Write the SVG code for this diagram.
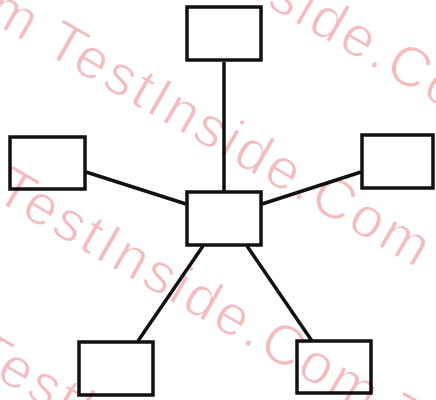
<svg xmlns="http://www.w3.org/2000/svg" width="436" height="400" viewBox="0 0 436 400">
<style>
.box{fill:none;stroke:#111;stroke-width:3.5}
.link{stroke:#111;stroke-width:3.5;fill:none}
.wm{font-family:"Liberation Sans",Arial,sans-serif;font-size:57px;letter-spacing:3px;fill:#f4bcbc;stroke:#fff;stroke-width:1.2}
</style>
<rect width="436" height="400" fill="#fff"/>
<g id="connectors">
<line class="link" x1="224" y1="62" x2="224" y2="191"/>
<line class="link" x1="86" y1="172" x2="186" y2="204"/>
<line class="link" x1="361" y1="172" x2="262" y2="204"/>
<line class="link" x1="203" y1="246" x2="138" y2="341"/>
<line class="link" x1="247" y1="246" x2="312" y2="341"/>
</g>
<g id="node-top"><rect class="box" x="187" y="7" width="74" height="53"/></g>
<g id="node-left"><rect class="box" x="10" y="137" width="75" height="52"/></g>
<g id="node-right"><rect class="box" x="362" y="135" width="71" height="53"/></g>
<g id="node-center"><rect class="box" x="187" y="192" width="74" height="53"/></g>
<g id="node-bottom-left"><rect class="box" x="79" y="342" width="74" height="53"/></g>
<g id="node-bottom-right"><rect class="box" x="297" y="341" width="74" height="52"/></g>
<g id="watermark" transform="rotate(30)" style="mix-blend-mode:multiply">
<text class="wm" x="62" y="-128">TestInside.Com</text>
<text class="wm" x="-389" y="24">TestInside.Com</text>
<text class="wm" x="63" y="24">TestInside.Com</text>
<text class="wm" x="92" y="176">TestInside.Com</text>
<text class="wm" x="544" y="176">TestInside.Com</text>
<text class="wm" x="152" y="330">TestInside.Com</text>
</g>
</svg>
